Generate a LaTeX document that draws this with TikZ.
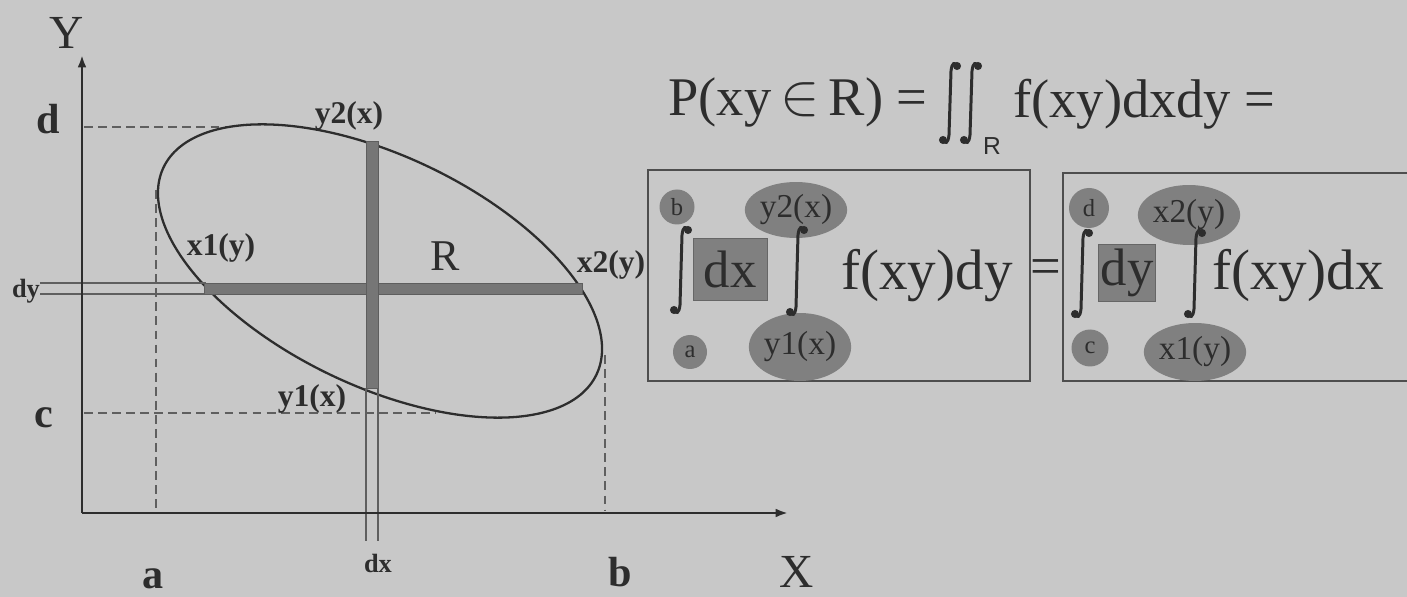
\documentclass[tikz,border=0pt]{standalone}
\usepackage{fontspec}
\usepackage{graphicx}
\setmainfont{Liberation Serif}
\setsansfont{Liberation Sans}
\usetikzlibrary{shapes.geometric,arrows.meta}
\definecolor{bg}{RGB}{200,200,200}
\definecolor{ink}{RGB}{45,45,45}
\definecolor{shade}{RGB}{128,128,128}
\definecolor{barc}{RGB}{118,118,118}
\definecolor{dashc}{RGB}{95,95,95}
\definecolor{boxc}{RGB}{78,78,78}
\newcommand{\intglyph}[5]{%
  \draw[ink,line width=#4,line cap=round] (#1+6,#2+4) .. controls (#1+4,#2) and (#1+1,#2) .. (#1,#2+9) -- (#1-2,#3-9) .. controls (#1-3,#3) and (#1-6,#3) .. (#1-8,#3-4);
  \fill[ink] (#1+6,#2+4) circle (#5);
  \fill[ink] (#1-8,#3-4) circle (#5);
}
\tikzset{
  axis/.style={ink,line width=1.7pt,-{Latex[length=7pt,width=5pt]}},
  guide/.style={dashc,line width=1.1pt,dash pattern=on 5pt off 3pt},
  curve/.style={ink,line width=1.3pt},
  thinl/.style={dashc,line width=0.7pt},
  barfill/.style={fill=barc,draw=barc!80!black,line width=0.3pt},
  ptlbl/.style={text=ink,font=\bfseries\fontsize{18}{20}\selectfont,inner sep=0pt},
  endlbl/.style={text=ink,font=\bfseries\fontsize{24}{26}\selectfont,inner sep=0pt},
  smlbl/.style={text=ink,font=\bfseries\fontsize{15}{17}\selectfont,inner sep=0pt},
  axlbl/.style={text=ink,font=\fontsize{27}{30}\selectfont,inner sep=0pt},
  big/.style={text=ink,font=\fontsize{31}{34}\selectfont,inner sep=0pt},
  bigger/.style={text=ink,font=\fontsize{32.5}{35}\selectfont,inner sep=0pt},
  blob/.style={fill=shade,draw=none,inner sep=0pt,text=ink,font=\fontsize{14}{16}\selectfont},
  blobel/.style={ellipse,fill=shade,draw=none,inner sep=0pt,text=ink,font=\fontsize{19}{21}\selectfont},
  diffbox/.style={fill=shade,draw=shade!80!black,line width=0.4pt,inner sep=0pt,text=ink,font=\fontsize{30}{32}\selectfont},
  boxline/.style={boxc,line width=1.3pt},
}
\begin{document}
\begin{tikzpicture}[x=0.02cm,y=-0.02cm]
\useasboundingbox (0,0) rectangle (1407,597);
\clip (0,0) rectangle (1407,597);
\fill[bg] (0,0) rectangle (1407,597);

% ---- left diagram ----
\coordinate (O) at (82,513);
\coordinate (Ytip) at (82,55);
\coordinate (Xtip) at (788,513);
% guides
\draw[guide] (84,127) -- (228,127);
\draw[guide] (84,413) -- (436,413);
\draw[guide] (156,190) -- (156,511);
\draw[guide] (605,355) -- (605,511);
% ellipse region R
\draw[curve] plot[domain=0:360,samples=140,smooth] ({380+240*cos(\x)*0.9018-115*sin(\x)*0.4321},{271+240*cos(\x)*0.4321+115*sin(\x)*0.9018}) -- cycle;
% dy strip
\draw[thinl] (40,283) -- (206,283);
\draw[thinl] (40,294) -- (206,294);
\draw[barfill] (204,283) rectangle (582,294);
% dx strip
\draw[thinl] (366,388) -- (366,541);
\draw[thinl] (378,388) -- (378,541);
\draw[barfill] (366,141) rectangle (378,388);
% axes
\draw[axis] (O) -- (Ytip);
\draw[axis] (O) -- (Xtip);
% labels
\node[axlbl] (Ylab) at (67,33) {Y};
\node[axlbl] (Xlab) at (797,572) {X};
\node[endlbl,anchor=base] (dlab) at (48,134) {d};
\node[endlbl,anchor=base] (clab) at (44,428) {c};
\node[endlbl,anchor=base] (alab) at (153,589) {a};
\node[endlbl,anchor=base] (blab) at (620,587) {b};
\node[smlbl] (dxlab) at (378,563) {dx};
\node[smlbl] (dylab) at (26,291) {dy};
\node[ptlbl] (y2lab) at (349,116) {y2(x)};
\node[ptlbl] (x1lab) at (221,248) {x1(y)};
\node[ptlbl] (y1lab) at (312,399) {y1(x)};
\node[ptlbl] (x2lab) at (611,265) {x2(y)};
\node[text=ink,font=\fontsize{25}{27}\selectfont,inner sep=0pt] (Rlab) at (445,256) {R};

% ---- top formula ----
\node[big,anchor=base west] (p1) at (668,116) {P(xy\,\raisebox{0.02em}{\scalebox{1.35}{$\in$}}\,R) =};
\intglyph{951}{62}{144}{1.7pt}{2.3pt}
\intglyph{972}{62}{144}{1.7pt}{2.3pt}
\node[text=ink,font=\sffamily\fontsize{14}{16}\selectfont,inner sep=0pt] (psub) at (992,146) {R};
\node[big,anchor=base west] (p2) at (1013,118) {f(xy)dxdy =};

% ---- box 1 ----
\draw[boxline,fill=bg] (648,170) rectangle (1030,381);
\node[blob,circle,minimum size=0.7cm] (b1) at (677,207) {b};
\node[blob,circle,minimum size=0.68cm] (a1) at (690,352) {a};
\node[blobel,minimum width=1.7cm,minimum height=1.12cm] (y2b) at (796,210) {y2(x)};
\node[blobel,minimum width=1.8cm,minimum height=1.36cm] (y1b) at (800,347) {y1(x)};
\node[diffbox,minimum width=1.48cm,minimum height=1.24cm] (dxb) at (730,269) {dx};
\intglyph{682}{226}{314}{1.7pt}{2.3pt}
\intglyph{798}{226}{316}{1.7pt}{2.3pt}
\node[bigger,anchor=base west] (f1) at (841,290) {f(xy)dy};
\node[big] (eq) at (1046,272) {=};

% ---- box 2 ----
\draw[boxline] (1420,173) -| (1063,381) -- (1420,381);
\node[blob,circle,minimum size=0.8cm] (d2) at (1089,208) {d};
\node[blob,circle,minimum size=0.74cm] (c2) at (1090,348) {c};
\node[blobel,minimum width=1.76cm,minimum height=1.2cm] (x2b) at (1189,215) {x2(y)};
\node[blobel,minimum width=1.6cm,minimum height=1.16cm] (x1b) at (1195,352) {x1(y)};
\node[diffbox,minimum width=1.14cm,minimum height=1.14cm] (dyb) at (1127,273) {dy};
\intglyph{1083}{229}{318}{1.7pt}{2.3pt}
\intglyph{1196}{229}{318}{1.7pt}{2.3pt}
\node[bigger,anchor=base west] (f2) at (1212,290) {f(xy)dx};
\end{tikzpicture}
\end{document}
